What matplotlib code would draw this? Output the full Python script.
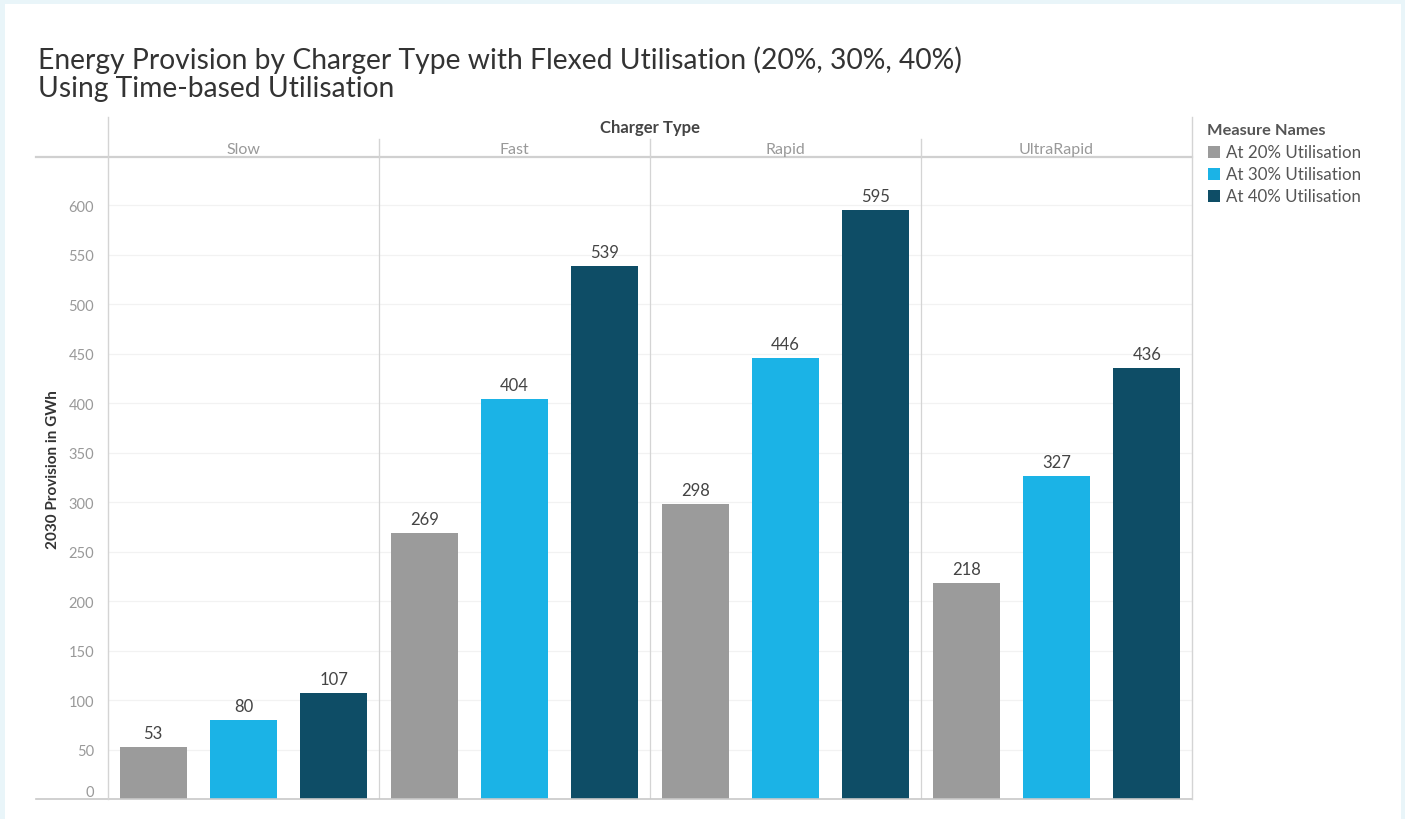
import matplotlib.pyplot as plt
import numpy as np

charger_types = ["Slow", "Fast", "Rapid", "UltraRapid"]
measures = ["At 20% Utilisation", "At 30% Utilisation", "At 40% Utilisation"]
util_20 = [53, 269, 298, 218]
util_30 = [80, 404, 446, 327]
util_40 = [107, 539, 595, 436]
yticks = list(range(0, 601, 50))

colors = ["#9b9b9b", "#1bb3e6", "#0e4d66"]
line_c = "#d4d4d4"

W, H = 1405, 820
fig = plt.figure(figsize=(W / 100, H / 100), dpi=100)
fig.patch.set_facecolor("#e9f5f9")

# white card behind everything
bg = fig.add_axes([5 / W, 0, (1401 - 5) / W, (H - 5) / H], zorder=-10)
bg.set_facecolor("white")
bg.set_xticks([])
bg.set_yticks([])
for s in bg.spines.values():
    s.set_visible(False)

def fx(px):
    return px / W

def fy(py):
    return 1 - py / H

left, right, top, bottom = 108, 1192, 158, 800
ax = fig.add_axes([fx(left), fy(bottom), fx(right - left), (bottom - top) / H])
ax.set_facecolor("none")

n = len(charger_types)
x = np.arange(n) * 3
bar_w = 0.74
for i, (vals, c) in enumerate(zip([util_20, util_30, util_40], colors)):
    xs = x + 0.5 + i
    ax.bar(xs, vals, width=bar_w, color=c, zorder=3)
    for xi, v in zip(xs, vals):
        ax.text(xi, v + 6, str(v), ha="center", va="bottom",
                fontsize=12, color="#444444", family="Lato", zorder=4)

ax.set_xlim(0, 3 * n)
ax.set_ylim(0, 649)
ax.set_yticks(yticks)
ax.set_yticklabels([str(t) for t in yticks], family="Lato", fontsize=10.5, color="#999999")
ax.tick_params(axis="y", length=0, pad=10)
# keep the zero label inside the axis, like the other labels
ax.get_yticklabels()[0].set_va("bottom")
ax.set_xticks([])
for t in yticks[1:]:
    ax.axhline(t, color="#f2f2f2", lw=0.9, zorder=1)
for s in ax.spines.values():
    s.set_visible(False)
for k in range(1, n):
    ax.axvline(3 * k, color=line_c, lw=0.9, zorder=2)
ax.set_ylabel("2030 Provision in GWh", family="Lato", fontsize=11,
              fontweight="bold", color="#333333")
ax.yaxis.set_label_coords(-0.044, 0.514)

# frame lines around the panels and header
def hline(y, x0, x1, c=line_c, lw=1.0):
    fig.add_artist(plt.Line2D([fx(x0), fx(x1)], [fy(y), fy(y)], color=c, lw=lw))

def vline(xp, y0, y1, c=line_c, lw=1.0):
    fig.add_artist(plt.Line2D([fx(xp), fx(xp)], [fy(y0), fy(y1)], color=c, lw=lw))

hline(158, 36, 1192, c="#d0d0d0", lw=1.6)
hline(800, 36, 1192, c="#c8c8c8", lw=1.2)
vline(left, 118, 800)
vline(right, 118, 800)
for k in range(1, n):
    vline(left + (right - left) * k / n, 140, 158)

fig.text(fx((left + right) / 2), fy(128), "Charger Type", ha="center", va="center",
         family="Lato", fontsize=12, fontweight="bold", color="#444444")
for k, name in enumerate(charger_types):
    cx = left + (right - left) * (k + 0.5) / n
    fig.text(fx(cx), fy(150), name, ha="center", va="center",
             family="Lato", fontsize=11.5, color="#999999")

fig.text(fx(38), fy(60), "Energy Provision by Charger Type with Flexed Utilisation (20%, 30%, 40%)",
         ha="left", va="center", family="Lato", fontsize=20.3, color="#333333")
fig.text(fx(38), fy(89), "Using Time-based Utilisation",
         ha="left", va="center", family="Lato", fontsize=20.3, color="#333333")

# legend
fig.text(fx(1207), fy(131), "Measure Names", ha="left", va="center",
         family="Lato", fontsize=11.8, fontweight="bold", color="#555555")
for i, (m, c) in enumerate(zip(measures, colors)):
    yy = 153 + i * 22
    fig.add_artist(plt.Rectangle((fx(1208), fy(yy + 6)), 12 / W, 12 / H,
                                 transform=fig.transFigure, facecolor=c, edgecolor="none"))
    fig.text(fx(1226), fy(yy), m, ha="left", va="center",
             family="Lato", fontsize=12.2, color="#555555")

fig.savefig("out.png", dpi=100, facecolor=fig.get_facecolor())
